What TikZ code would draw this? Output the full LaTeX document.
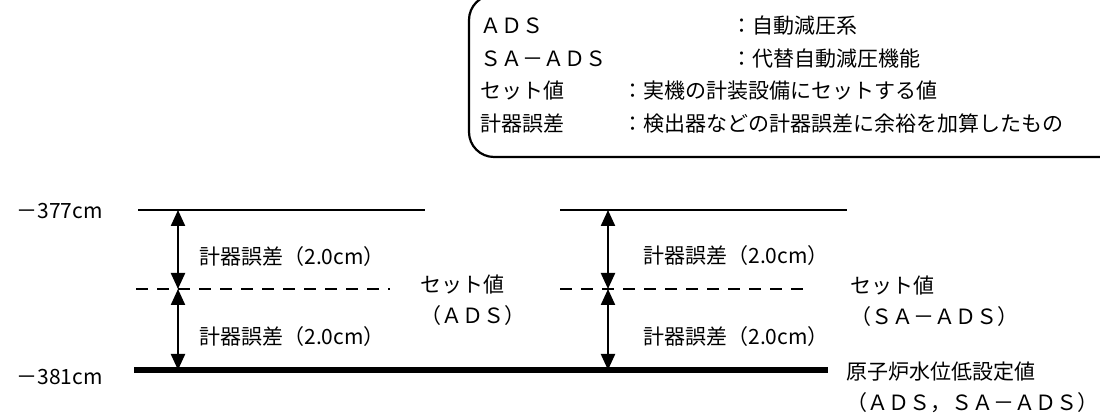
\documentclass[tikz,border=0pt]{standalone}
\usepackage{fontspec}
\setmainfont{Noto Sans CJK JP}
\usetikzlibrary{arrows.meta}

\begin{document}
\begin{tikzpicture}[
  x=0.5pt, y=-0.5pt,
  font=\fontsize{10.5}{15.5}\selectfont,
  txt/.style={inner sep=0pt, anchor=west, align=left},
  level/.style={line width=1.4pt},
  setlv/.style={line width=1.4pt, dash pattern=on 6pt off 4.5pt},
  base/.style={line width=2.6pt},
  dim/.style={{Triangle[length=8pt,width=7pt]}-{Triangle[length=8pt,width=7pt]}, line width=1.1pt},
  legend/.style={draw, line width=1.1pt, rounded corners=12.5pt}
]
\useasboundingbox (0,0) rectangle (1100,416);

% legend
\draw[legend] (469,-5) rectangle (1130,157);
\node[txt] (kADS) at (480,26) {ＡＤＳ};
\node[txt] (dADS) at (731,26) {：自動減圧系};
\node[txt] (kSA) at (480,59) {ＳＡ－ＡＤＳ};
\node[txt] (dSA) at (731,59) {：代替自動減圧機能};
\node[txt] (kSet) at (480,91) {セット値};
\node[txt] (dSet) at (622,91) {：実機の計装設備にセットする値};
\node[txt] (kErr) at (480,124) {計器誤差};
\node[txt] (dErr) at (622,124) {：検出器などの計器誤差に余裕を加算したもの};

% levels
\node[txt] (v377) at (16,211) {－377cm};
\node[txt] (v381) at (16,377) {－381cm};
\draw[level] (138,210) -- (425,210);
\draw[level] (560,210) -- (847,210);
\draw[setlv] (136,289) -- (390,289);
\draw[setlv] (560,289) -- (808,289);
\draw[base] (134,370) -- (828,370);

% error spans
\coordinate (topA) at (178,210);
\coordinate (setA) at (178,289);
\coordinate (lowA) at (178,370);
\coordinate (topB) at (608,210);
\coordinate (setB) at (608,289);
\coordinate (lowB) at (608,370);
\draw[dim] (topA) -- (setA);
\draw[dim] (setA) -- (lowA);
\draw[dim] (topB) -- (setB);
\draw[dim] (setB) -- (lowB);

\node[txt] (errA1) at (199,257) {計器誤差（2.0cm）};
\node[txt] (errA2) at (199,337) {計器誤差（2.0cm）};
\node[txt] (errB1) at (643,256) {計器誤差（2.0cm）};
\node[txt] (errB2) at (643,337) {計器誤差（2.0cm）};

% set values
\node[txt] (setADS) at (420,300) {セット値\\（ＡＤＳ）};
\node[txt] (setSA) at (850,301) {セット値\\（ＳＡ－ＡＤＳ）};
\node[txt] (lowLv) at (846,387) {原子炉水位低設定値\\（ＡＤＳ，ＳＡ－ＡＤＳ）};
\end{tikzpicture}
\end{document}
